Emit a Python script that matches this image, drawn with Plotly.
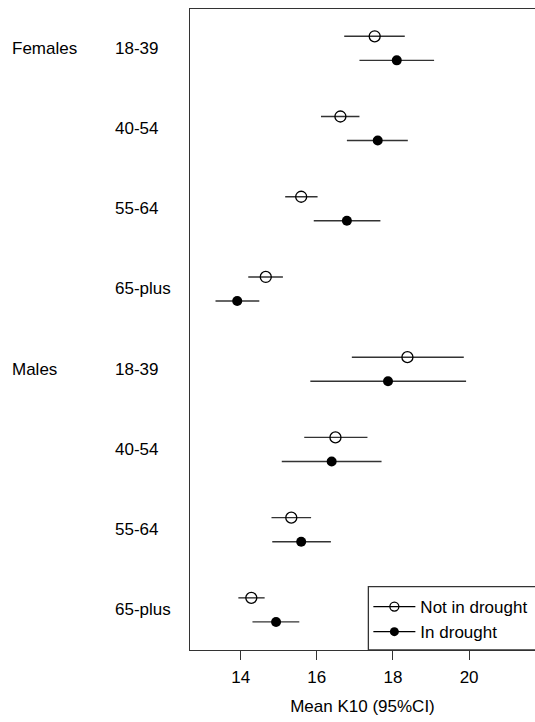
import plotly.graph_objects as go

sex_labels = ["Females", "", "", "", "Males", "", "", ""]
age_labels = ["18-39", "40-54", "55-64", "65-plus", "18-39", "40-54", "55-64", "65-plus"]

not_mean = [17.52, 16.62, 15.59, 14.66, 18.38, 16.49, 15.33, 14.28]
not_lo = [16.72, 16.11, 15.17, 14.20, 16.92, 15.67, 14.81, 13.94]
not_hi = [18.31, 17.12, 16.02, 15.11, 19.86, 17.33, 15.85, 14.63]

dr_mean = [18.10, 17.60, 16.79, 13.91, 17.87, 16.39, 15.59, 14.93]
dr_lo = [17.12, 16.79, 15.92, 13.34, 15.83, 15.08, 14.83, 14.31]
dr_hi = [19.08, 18.39, 17.67, 14.49, 19.92, 17.70, 16.37, 15.54]

rows = list(range(len(age_labels)))
off = 0.15
FONT = "Liberation Sans, Arial, Helvetica, sans-serif"
LC = "#333333"

fig = go.Figure()
fig.add_trace(go.Scatter(
    x=not_mean, y=[r - off for r in rows], mode="markers", showlegend=False,
    marker=dict(symbol="circle-open", size=11, color="black", line=dict(width=1.3, color="black")),
    error_x=dict(type="data", symmetric=False,
                 array=[h - m for h, m in zip(not_hi, not_mean)],
                 arrayminus=[m - l for m, l in zip(not_mean, not_lo)],
                 width=0, thickness=1.4, color=LC),
))
fig.add_trace(go.Scatter(
    x=dr_mean, y=[r + off for r in rows], mode="markers", showlegend=False,
    marker=dict(symbol="circle", size=10, color="black"),
    error_x=dict(type="data", symmetric=False,
                 array=[h - m for h, m in zip(dr_hi, dr_mean)],
                 arrayminus=[m - l for m, l in zip(dr_mean, dr_lo)],
                 width=0, thickness=1.4, color=LC),
))
# legend entries
fig.add_trace(go.Scatter(x=[None], y=[None], mode="lines+markers", name="Not in drought",
                         line=dict(color="black", width=1.3),
                         marker=dict(symbol="circle-open", size=9, color="black", line=dict(width=1.3))))
fig.add_trace(go.Scatter(x=[None], y=[None], mode="lines+markers", name="In drought",
                         line=dict(color="black", width=1.3),
                         marker=dict(symbol="circle", size=9, color="black")))

for r, s, a in zip(rows, sex_labels, age_labels):
    fig.add_annotation(x=-0.2243, xref="paper", y=r, yref="y", text=a, showarrow=False,
                       xanchor="left", yanchor="middle", font=dict(size=17, family=FONT, color="black"))
    if s:
        fig.add_annotation(x=-0.521, xref="paper", y=r, yref="y", text=s, showarrow=False,
                           xanchor="left", yanchor="middle", font=dict(size=17, family=FONT, color="black"))

# legend frame (extends past the right edge, as in the reference)
fig.add_shape(type="rect", xref="paper", yref="paper", x0=0.517, x1=1.1, y0=0, y1=0.0988,
              line=dict(color=LC, width=1.3), fillcolor="rgba(0,0,0,0)", layer="above")

fig.update_layout(
    width=535, height=722,
    margin=dict(l=190, r=0, t=9, b=72),
    plot_bgcolor="white", paper_bgcolor="white",
    font=dict(family=FONT, size=17, color="black"),
    legend=dict(x=0.517, y=0, xanchor="left", yanchor="bottom",
                borderwidth=0, bgcolor="rgba(0,0,0,0)",
                font=dict(size=17, family=FONT), itemwidth=42, tracegroupgap=0),
    xaxis=dict(range=[12.67, 21.73], tickvals=[14, 16, 18, 20], ticks="outside", ticklen=9,
               tickwidth=1.3, tickcolor=LC, showline=True, linecolor=LC, linewidth=1.3, mirror=True,
               showgrid=False, zeroline=False, tickfont=dict(size=17), ticklabelstandoff=2,
               title=dict(text="Mean K10 (95%CI)", font=dict(size=17), standoff=14)),
    yaxis=dict(range=[7.5, -0.49], showticklabels=False, ticks="", showline=True, linecolor=LC,
               linewidth=1.3, showgrid=False, zeroline=False),
)

fig.write_html("out.html", config={"displayModeBar": False},
               post_script="document.body.style.margin='0';document.body.style.overflow='hidden';")
